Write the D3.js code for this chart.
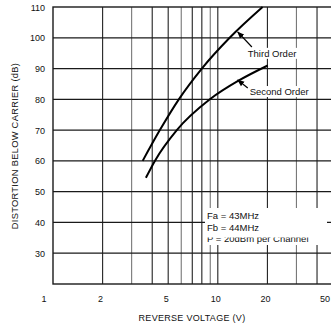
<html>
  <head>
    <script src="https://cdn.jsdelivr.net/npm/d3@7"></script>
    <style>
      body { margin: 0; background: #fff; }
      text { font-family: "Liberation Sans", Arial, sans-serif; fill: #111; }
    </style>
  </head>
  <body>
    <script>
      // values
      const thirdOrderV = [3.5, 4.45, 5.8, 8.0, 11.8, 18.7];
      const thirdOrderDb = [60, 70, 80, 90, 100, 110];
      const secondOrderV = [3.66, 4.15, 5.64, 8.95, 13.6, 20.1];
      const secondOrderDb = [54.5, 60, 70, 80, 86.3, 91];
      const yTicks = [30, 40, 50, 60, 70, 80, 90, 100, 110];
      const xTickLabels = [1, 2, 5, 10, 20, 50];
      const xGrid = [2, 3, 4, 5, 6, 7, 8, 9, 10, 20, 30, 40];
      const legendLines = ["Fa = 43MHz", "Fb = 44MHz", "P = 20dBm per Channel"];

      const width = 331, height = 327;
      const svg = d3.select("body").append("svg")
          .attr("width", width)
          .attr("height", height);

      const x = d3.scaleLog().domain([1, 50]).range([53, 333]);
      const y = d3.scaleLinear().domain([20, 110]).range([284, 7]);

      // grid
      svg.append("g").selectAll("line")
          .data(xGrid)
          .join("line")
          .attr("x1", d => x(d)).attr("x2", d => x(d))
          .attr("y1", y(110)).attr("y2", y(20))
          .attr("stroke", (d, i) => i % 3 == 1 ? "#777" : "#222")
          .attr("stroke-width", 1.1);

      svg.append("g").selectAll("line")
          .data(yTicks.slice(0, -1))
          .join("line")
          .attr("x1", x(1)).attr("x2", x(50))
          .attr("y1", d => y(d)).attr("y2", d => y(d))
          .attr("stroke", "#1a1a1a")
          .attr("stroke-width", 1.3);

      svg.append("rect")
          .attr("x", x(1)).attr("y", y(110))
          .attr("width", x(50) - x(1)).attr("height", y(20) - y(110))
          .attr("fill", "none")
          .attr("stroke", "#1a1a1a")
          .attr("stroke-width", 1.4);

      // tick labels
      svg.append("g").selectAll("text")
          .data(yTicks)
          .join("text")
          .attr("x", 45)
          .attr("y", d => y(d) + 3.5)
          .attr("text-anchor", "end")
          .attr("font-size", 9)
          .text(d => d);

      svg.append("g").selectAll("text")
          .data(xTickLabels)
          .join("text")
          .attr("x", d => d === 1 ? x(d) - 9 : d === 50 ? width - 1 : x(d) - 2)
          .attr("y", 302)
          .attr("text-anchor", d => d === 50 ? "end" : "middle")
          .attr("font-size", 9)
          .text(d => d);

      svg.append("text")
          .attr("x", 192).attr("y", 321)
          .attr("text-anchor", "middle")
          .attr("font-size", 9)
          .attr("letter-spacing", 0.3)
          .text("REVERSE VOLTAGE (V)");

      svg.append("text")
          .attr("transform", "translate(18,146) rotate(-90)")
          .attr("text-anchor", "middle")
          .attr("font-size", 9.3)
          .attr("letter-spacing", 0.3)
          .text("DISTORTION BELOW CARRIER (dB)");

      // curves
      const line = d3.line()
          .x(d => x(d[0]))
          .y(d => y(d[1]))
          .curve(d3.curveMonotoneX);

      [[thirdOrderV, thirdOrderDb], [secondOrderV, secondOrderDb]].forEach(([vs, dbs]) => {
        svg.append("path")
            .datum(vs.map((v, i) => [v, dbs[i]]))
            .attr("fill", "none")
            .attr("stroke", "#000")
            .attr("stroke-width", 2)
            .attr("d", line);
      });

      // annotations
      svg.append("defs").append("marker")
          .attr("id", "arr")
          .attr("viewBox", "0 0 10 10")
          .attr("refX", 9).attr("refY", 5)
          .attr("markerWidth", 6).attr("markerHeight", 6)
          .attr("orient", "auto")
          .append("path")
          .attr("d", "M0,1 L10,5 L0,9 Z")
          .attr("fill", "#000");

      const notes = [
        { name: "Third Order", tip: [13.2, 101.9], tail: [16.1, 97], at: [15.2, 93.8] },
        { name: "Second Order", tip: [13.2, 86.3], tail: [15.2, 83.7], at: [15.6, 81.4] }
      ];
      notes.forEach(n => {
        svg.append("line")
            .attr("x1", x(n.tail[0])).attr("y1", y(n.tail[1]))
            .attr("x2", x(n.tip[0])).attr("y2", y(n.tip[1]))
            .attr("stroke", "#000")
            .attr("stroke-width", 1.2)
            .attr("marker-end", "url(#arr)");
        svg.append("rect")
            .attr("x", x(n.at[0]) - 1).attr("y", y(n.at[1]) - 9)
            .attr("width", n.name.length * 5.6).attr("height", 11)
            .attr("fill", "#fff");
        svg.append("text")
            .attr("x", x(n.at[0])).attr("y", y(n.at[1]))
            .attr("font-size", 9.5)
            .text(n.name);
      });

      // legend box
      svg.append("rect")
          .attr("x", 205).attr("y", 208)
          .attr("width", 122).attr("height", 37)
          .attr("fill", "#fff");

      // the scan lost the top of the last legend line
      const cut = svg.append("clipPath").attr("id", "cut");
      cut.append("rect").attr("x", 200).attr("y", 200).attr("width", 131).attr("height", 32);
      cut.append("rect").attr("x", 200).attr("y", 237.5).attr("width", 131).attr("height", 15);

      svg.append("g")
          .attr("clip-path", "url(#cut)")
          .selectAll("text")
          .data(legendLines)
          .join("text")
          .attr("x", 207)
          .attr("y", (d, i) => 219 + i * 11.5)
          .attr("font-size", 9.5)
          .text(d => d);
    </script>
  </body>
</html>
